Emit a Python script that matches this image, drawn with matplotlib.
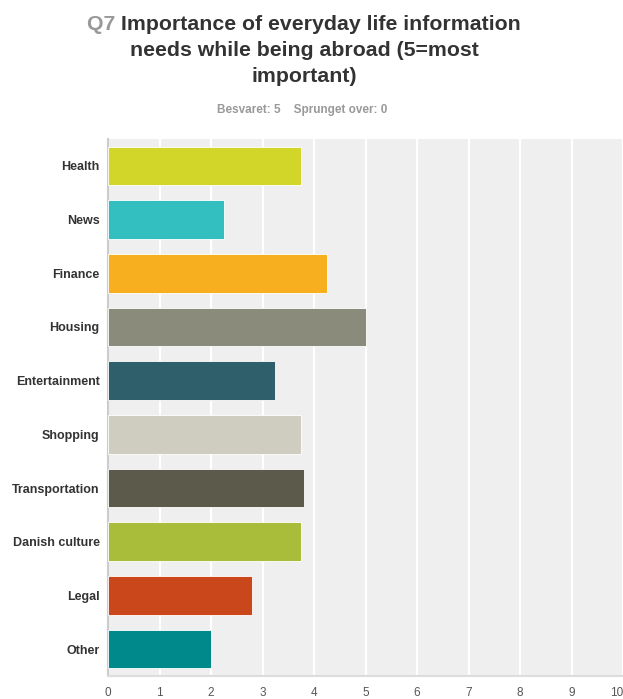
import matplotlib
matplotlib.use("Agg")
import matplotlib.pyplot as plt

categories = ["Health", "News", "Finance", "Housing", "Entertainment",
              "Shopping", "Transportation", "Danish culture", "Legal", "Other"]
scores = [3.75, 2.25, 4.25, 5.0, 3.25, 3.75, 3.8, 3.75, 2.8, 2.0]
colors = ["#d1d628", "#33bec0", "#f7af1f", "#8a8b7a", "#2e5f6b",
          "#cfcdc0", "#5c5a4b", "#a9bd3a", "#c9471b", "#00898a"]
xticks = list(range(0, 11))

plt.rcParams["font.family"] = ["Liberation Sans", "DejaVu Sans"]


def main():
    fig = plt.figure(figsize=(6.23, 6.99), dpi=100)
    ax = fig.add_axes([108 / 623, 1 - 676 / 699, 1 - 108 / 623, (676 - 139) / 699])
    ax.set_facecolor("#efefef")

    ypos = list(range(len(categories)))
    ax.barh(ypos, scores, height=0.72, color=colors, edgecolor="white",
            linewidth=0.6, zorder=3)
    ax.set_ylim(len(categories) - 0.5, -0.5)
    ax.set_xlim(0, 10)
    ax.set_xticks(xticks)
    ax.set_xticklabels([str(t) for t in xticks], color="#555555", fontsize=8.5)
    # last label sits at the figure edge, keep it inside
    ax.get_xticklabels()[-1].set_ha("right")
    ax.set_yticks(ypos)
    ax.set_yticklabels(categories, fontsize=9, fontweight="bold", color="#333333")
    ax.tick_params(axis="x", length=0, pad=8)
    ax.tick_params(axis="y", length=0, pad=6)
    ax.grid(axis="x", color="white", linewidth=1.6, zorder=1)
    ax.set_axisbelow(True)
    for side in ["top", "right"]:
        ax.spines[side].set_visible(False)
    ax.spines["left"].set_color("#cccccc")
    ax.spines["left"].set_linewidth(1.5)
    ax.spines["bottom"].set_color("#dddddd")
    ax.spines["bottom"].set_linewidth(1.5)

    # title, "Q7" in grey followed by the dark text on the first line
    renderer = fig.canvas.get_renderer()
    tsize = 15.3
    cx = 304 / 623
    q = fig.text(0, 0, "Q7 ", fontsize=tsize, fontweight="bold", color="#999999",
                 va="center")
    rest = fig.text(0, 0, "Importance of everyday life information", fontsize=tsize,
                    fontweight="bold", color="#333333", va="center")
    wq = q.get_window_extent(renderer).width / fig.bbox.width
    wr = rest.get_window_extent(renderer).width / fig.bbox.width
    x0 = cx - (wq + wr) / 2
    y1 = 1 - 25 / 699
    q.set_position((x0, y1))
    rest.set_position((x0 + wq, y1))
    fig.text(cx, 1 - 51 / 699, "needs while being abroad (5=most", fontsize=tsize,
             fontweight="bold", color="#333333", ha="center", va="center")
    fig.text(cx, 1 - 77 / 699, "important)", fontsize=tsize,
             fontweight="bold", color="#333333", ha="center", va="center")
    fig.text(302 / 623, 1 - 110 / 699, "Besvaret: 5    Sprunget over: 0",
             fontsize=8.5, fontweight="bold", color="#999999", ha="center", va="center")

    fig.savefig("out.png", dpi=100)


if __name__ == "__main__":
    main()
